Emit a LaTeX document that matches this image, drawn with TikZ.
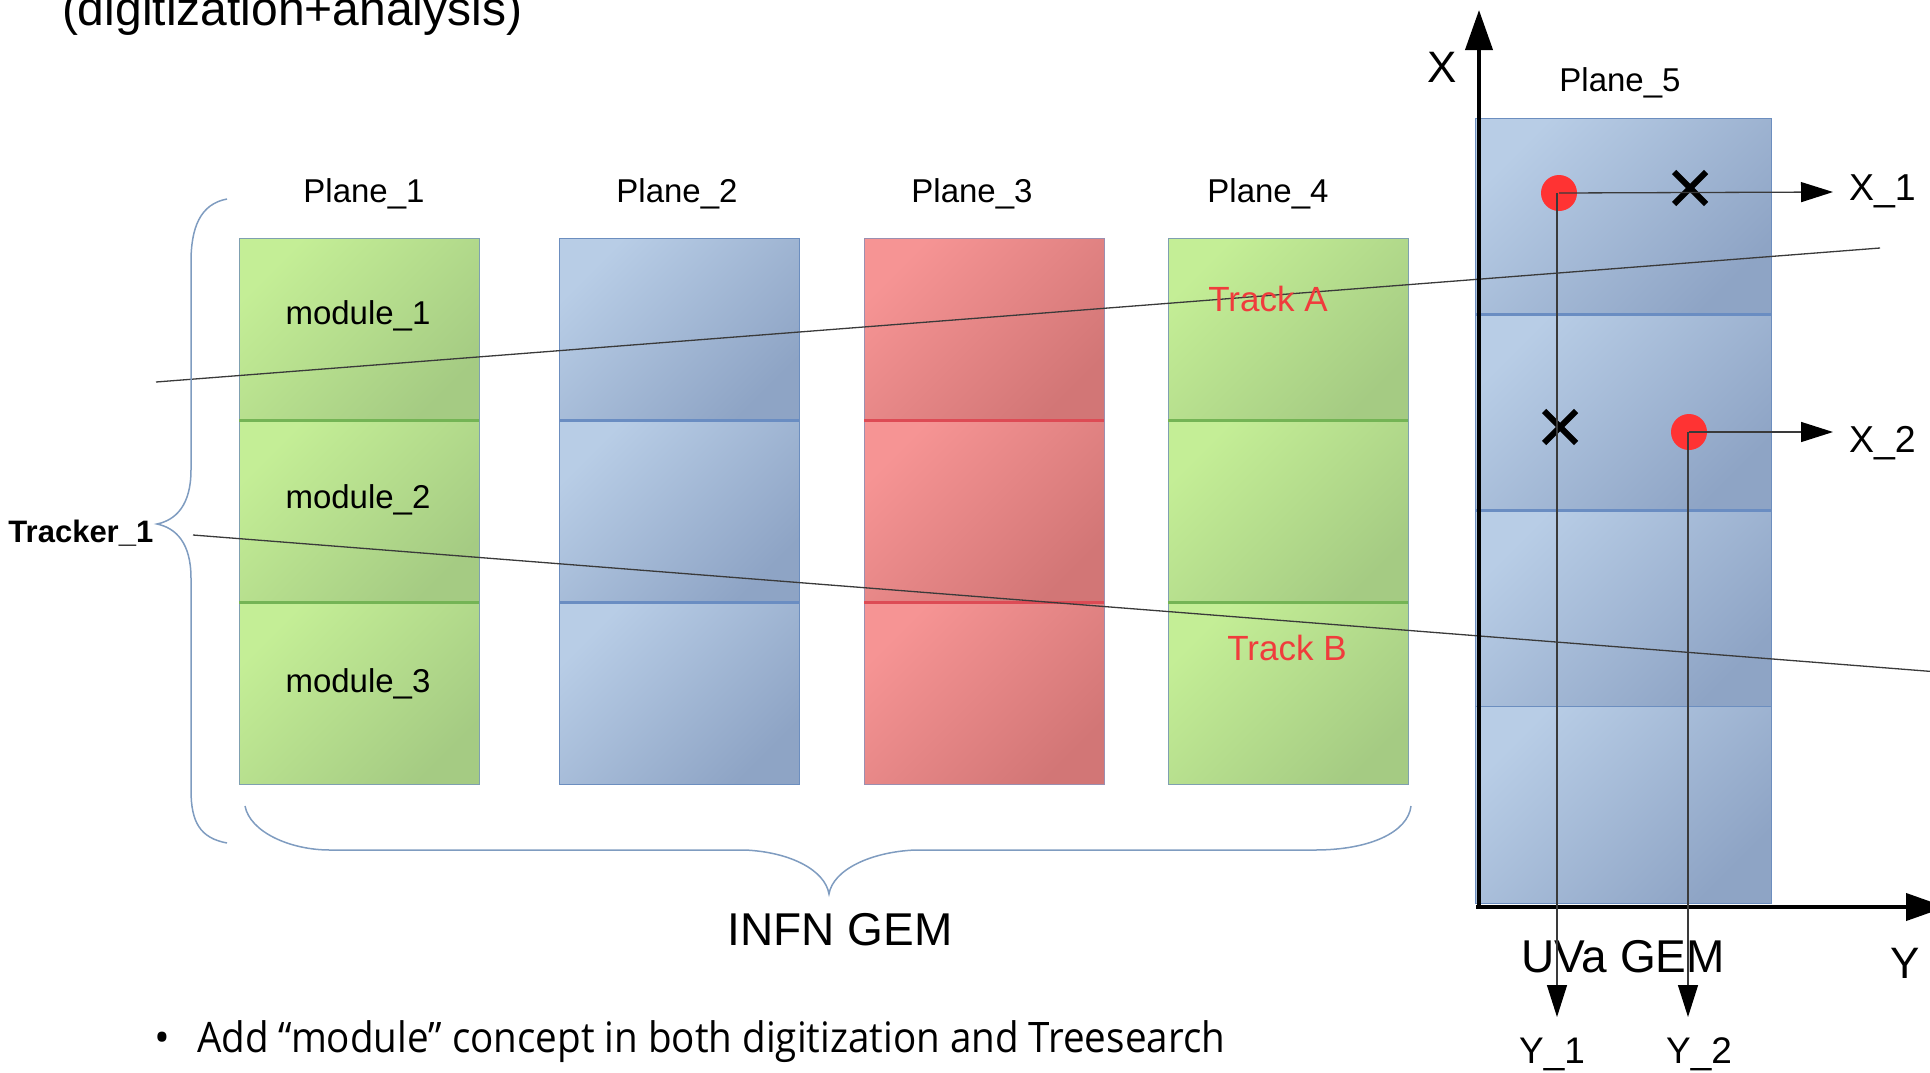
\documentclass[tikz,border=0pt]{standalone}
\usepackage{fontspec}
\usepackage{graphicx}
\setmainfont{Liberation Sans}
\newfontfamily\opensans{Open Sans}
\usetikzlibrary{arrows.meta,shapes.misc}
\newcommand\myfs[1]{\fontsize{#1}{#1}\selectfont}
\definecolor{gA}{HTML}{C4EE96}
\definecolor{gB}{HTML}{A5CB83}
\definecolor{bA}{HTML}{B8CDE6}
\definecolor{bB}{HTML}{8EA4C5}
\definecolor{rA}{HTML}{F69494}
\definecolor{rB}{HTML}{D27676}
\definecolor{gEdge}{HTML}{7FA0B0}
\definecolor{bEdge}{HTML}{6C8EBF}
\definecolor{rEdge}{HTML}{9B8FB0}
\definecolor{gSep}{HTML}{74B455}
\definecolor{bSep}{HTML}{6A8DC2}
\definecolor{rSep}{HTML}{DD4B55}
\definecolor{braceC}{HTML}{7F9CC0}
\definecolor{dotC}{HTML}{FF3333}
\definecolor{trackC}{HTML}{F03C3C}
\definecolor{lineC}{HTML}{3A3A3A}
\tikzset{
  modbase/.style={line width=1pt, inner sep=0, outer sep=0, anchor=north west,
    minimum width=240pt, minimum height=182pt, shading angle=45},
  modg/.style={modbase, draw=gEdge, top color=gA, bottom color=gB, shading angle=45},
  modb/.style={modbase, draw=bEdge, top color=bA, bottom color=bB, shading angle=45},
  modr/.style={modbase, draw=rEdge, top color=rA, bottom color=rB, shading angle=45},
  modfive/.style={modb, minimum width=296pt, minimum height=196.25pt},
  sepg/.style={draw=gSep, line width=3pt},
  sepb/.style={draw=bSep, line width=3pt},
  sepr/.style={draw=rSep, line width=3pt},
  txt/.style={inner sep=0, outer sep=0, anchor=base},
  brace/.style={draw=braceC, line width=1.5pt},
  track/.style={draw=lineC, line width=1.3pt},
  tracklbl/.style={txt, text=trackC, font=\myfs{35}},
  ptr/.style={draw=lineC, line width=1.3pt, -{Triangle[width=20pt,length=32pt,color=black]}},
  axisline/.style={draw=black, line width=4pt, -{Triangle[width=27pt,length=40pt]}},
  reddot/.style={circle, fill=dotC, minimum size=36pt, inner sep=0, outer sep=0},
  xmark/.style={cross out, draw=black, line width=6pt, minimum size=32pt, inner sep=0, outer sep=0},
}
\begin{document}
\begin{tikzpicture}[x=1pt,y=-1pt]
\useasboundingbox (0,0) rectangle (1930,1072);
\clip (0,0) rectangle (1930,1072);

% title (cut at top)
\node[txt, anchor=base west, font=\myfs{48}] (title) at (62,25) {(digitization+analysis)};

% INFN planes
\foreach \px/\st/\sp/\nm in {239/modg/sepg/a, 559/modb/sepb/b, 864/modr/sepr/c, 1168/modg/sepg/d}{
  \node[\st] (\nm1) at (\px,238) {};
  \node[\st] (\nm2) at (\px,420) {};
  \node[\st] (\nm3) at (\px,602) {};
  \draw[\sp] (\nm1.south west) -- (\nm1.south east);
  \draw[\sp] (\nm2.south west) -- (\nm2.south east);
}

% plane labels
\node[txt, font=\myfs{33}] (pl1) at (364,202) {Plane\_1};
\node[txt, font=\myfs{33}] (pl2) at (677,202) {Plane\_2};
\node[txt, font=\myfs{33}] (pl3) at (972,202) {Plane\_3};
\node[txt, font=\myfs{33}] (pl4) at (1268,202) {Plane\_4};

% module labels
\node[txt, font=\myfs{33}] (ml1) at (358,324) {module\_1};
\node[txt, font=\myfs{33}] (ml2) at (358,508) {module\_2};
\node[txt, font=\myfs{33}] (ml3) at (358,692) {module\_3};

% Plane 5 (UVa)
\node[modfive] (e1) at (1475,118) {};
\node[modfive] (e2) at (1475,314.25) {};
\node[modfive] (e3) at (1475,510.5) {};
\node[modfive] (e4) at (1475,706.75) {};
\draw[sepb] (e1.south west) -- (e1.south east);
\draw[sepb] (e2.south west) -- (e2.south east);
\node[txt, font=\myfs{33}] (pl5) at (1620,91) {Plane\_5};

% tracks
\coordinate (tA0) at (156,382);
\coordinate (tA1) at (1880,248);
\coordinate (tB0) at (193,535);
\coordinate (tB1) at (1932,671.5);
\draw[track] (tA0) -- (tA1);
\draw[track] (tB0) -- (tB1);
\node[tracklbl] (trA) at (1268,311) {Track A};
\node[tracklbl] (trB) at (1287,660) {Track B};

% braces
\draw[brace] (227,199) .. controls (200,204) and (191,228) .. (191,262)
  -- (191,470) .. controls (191,505) and (176,520) .. (157,524)
  .. controls (176,528) and (191,543) .. (191,578)
  -- (191,790) .. controls (191,822) and (200,838) .. (227,843);
\draw[brace] (245,806) .. controls (250,832) and (290,850) .. (330,850)
  -- (745,850) .. controls (790,852) and (825,870) .. (829,894)
  .. controls (833,870) and (870,852) .. (915,850)
  -- (1315,850) .. controls (1370,850) and (1408,832) .. (1411,806);
\node[txt, anchor=base west, font=\bfseries\myfs{31}] (trk) at (8.5,542) {Tracker\_1};
\node[txt, font=\myfs{46}] (infn) at (840,945) {INFN GEM};

% axes
\coordinate (ax0) at (1479,909);
\coordinate (axX) at (1479,10);
\coordinate (ay0) at (1476,907);
\coordinate (axY) at (1946,907);
\draw[axisline] (ax0) -- (axX);
\draw[axisline] (ay0) -- (axY);
\node[txt, font=\myfs{44}] (xl) at (1442,82) {X};
\node[txt, font=\myfs{44}] (yl) at (1905,978) {Y};
\node[txt, font=\myfs{46}] (uva) at (1623,972) {UVa GEM};

% hits
\node[reddot] (d1) at (1559,193) {};
\node[reddot] (d2) at (1689,432) {};
\node[xmark] (c1) at (1690,188) {};
\node[xmark] (c2) at (1560,427) {};

\coordinate (x1tip) at (1833,192);
\coordinate (x2tip) at (1833,432);
\coordinate (y1tip) at (1557,1017);
\coordinate (y2tip) at (1688,1017);
\draw[ptr] (d1.center) -- (x1tip);
\draw[ptr] (d2.center) -- (x2tip);
\draw[ptr] (d1.center) ++(-2,0) -- (y1tip);
\draw[ptr] (d2.center) ++(-1,0) -- (y2tip);

\node[txt, anchor=base west, font=\myfs{37.5}] (x1l) at (1849,200) {X\_1};
\node[txt, anchor=base west, font=\myfs{37.5}] (x2l) at (1849,452) {X\_2};
\node[txt, font=\myfs{37}] (y1l) at (1552,1063) {Y\_1};
\node[txt, font=\myfs{37}] (y2l) at (1699,1063) {Y\_2};

% bullet line
\node[txt, anchor=base, font=\opensans\myfs{42}] (bul) at (162,1052) {•};
\node[txt, anchor=base west, font=\opensans\myfs{42}] (note) at (197,1052)
  {\resizebox{1028pt}{\height}{Add “module” concept in both digitization and Treesearch}};
\end{tikzpicture}
\end{document}
